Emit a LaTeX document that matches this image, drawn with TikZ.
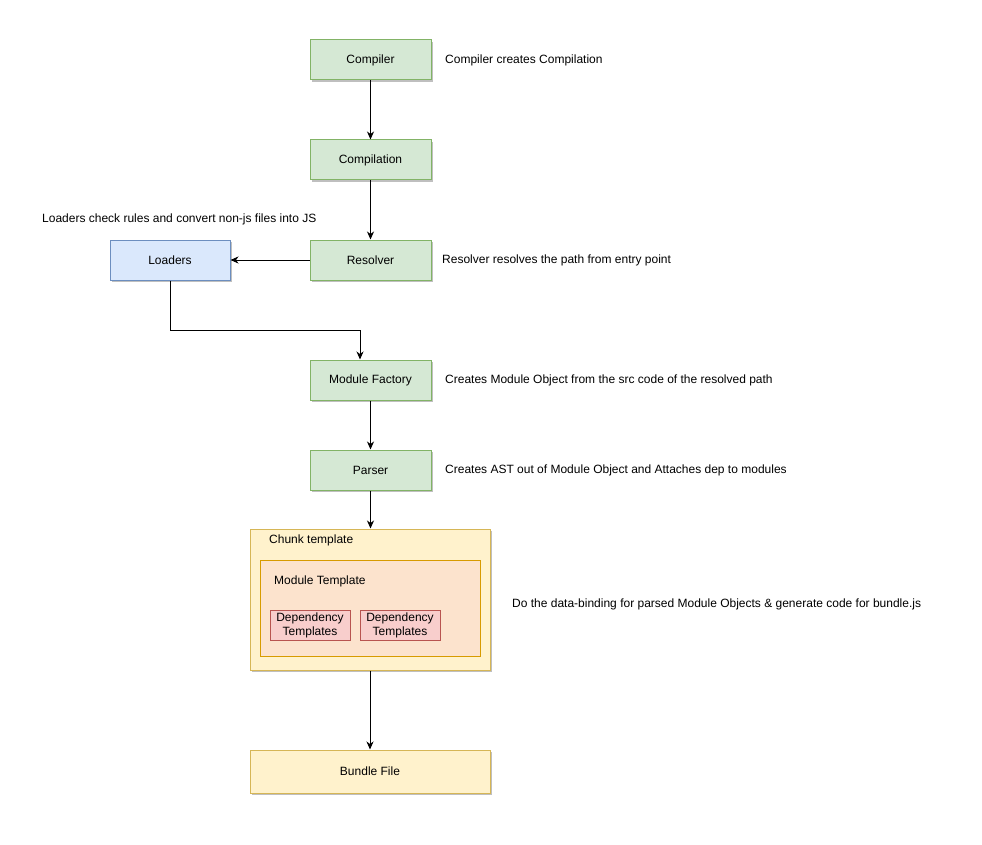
\documentclass[tikz,border=0pt]{standalone}
\usepackage{fontspec}
\setmainfont{Liberation Sans}
\usepackage{xcolor}
\usetikzlibrary{arrows.meta,positioning,calc,shadows}

\definecolor{grnfill}{HTML}{D5E8D4}
\definecolor{grnline}{HTML}{82B366}
\definecolor{blufill}{HTML}{DAE8FC}
\definecolor{bluline}{HTML}{6C8EBF}
\definecolor{ylwfill}{HTML}{FFF2CC}
\definecolor{ylwline}{HTML}{D6B656}
\definecolor{orgfill}{HTML}{FCE3CD}
\definecolor{orgline}{HTML}{D79B00}
\definecolor{redfill}{HTML}{F8CECC}
\definecolor{redline}{HTML}{B85450}

\begin{document}
\begin{tikzpicture}[
  x=1pt,y=-1pt,
  every node/.style={font=\rmfamily\fontsize{12}{14}\selectfont},
  shade/.style ={drop shadow={shadow xshift=2pt,shadow yshift=-2pt,
                opacity=0.25,fill=black}},
  proc/.style  ={draw=grnline,fill=grnfill,line width=1pt,shade,
                minimum width=121pt,minimum height=40pt,inner sep=0pt},
  ldrbox/.style={draw=bluline,fill=blufill,line width=1pt,shade,
                minimum width=120pt,minimum height=40pt,inner sep=0pt},
  chunk/.style ={draw=ylwline,fill=ylwfill,line width=1pt,shade,
                minimum width=240pt,inner sep=0pt},
  modtpl/.style={draw=orgline,fill=orgfill,line width=0.8pt,
                minimum width=220pt,minimum height=96pt,inner sep=0pt},
  deptpl/.style={draw=redline,fill=redfill,line width=1pt,align=center,
                minimum width=80pt,minimum height=30pt,inner sep=0pt,
                font=\rmfamily\fontsize{12}{14}\selectfont},
  note/.style  ={anchor=west,inner sep=0pt},
  fl/.style    ={-{Stealth[length=8pt,width=7pt,inset=2.5pt]},line width=1pt,black},
  ]
  \useasboundingbox (0,0) rectangle (982,845);

  % ===== main column =====
  \node[proc] (cmp)  at (370.5, 60) {Compiler};
  \node[proc] (cpl)  at (370.5,160) {Compilation};
  \node[proc] (res)  at (370.5,260) {Resolver};
  \node[ldrbox] (ldr) at (170,260) {Loaders};
  \node[proc] (mf)   at (370.5,380) {Module Factory};
  \node[proc] (prs)  at (370.5,470) {Parser};

  % ===== templates =====
  \node[chunk,minimum height=141pt] (chk) at (370,599.5) {};
  \node[modtpl] (mod) at (370,608) {};
  \node[deptpl] (dep1) at (310,625) {Dependency\\Templates};
  \node[deptpl] (dep2) at (400,625) {Dependency\\Templates};
  \node[note] (chklbl) at (269,540) {Chunk template};
  \node[note] (modlbl) at (274,581) {Module Template};

  \node[chunk,minimum height=43pt] (bnd) at (370,771.5) {Bundle File};

  % ===== notes =====
  \node[note] (n1) at (445, 60) {Compiler creates Compilation};
  \node[note] (n2) at ( 42,219) {Loaders check rules and convert non-js files into JS};
  \node[note] (n3) at (442,260) {Resolver resolves the path from entry point};
  \node[note] (n4) at (445,380) {Creates Module Object from the src code of the resolved path};
  \node[note] (n5) at (445,470) {Creates AST out of Module Object and Attaches dep to modules};
  \node[note] (n6) at (512,604) {Do the data-binding for parsed Module Objects \& generate code for bundle.js};

  % ===== arrows =====
  \draw[fl] (cmp.south) -- (cpl.north);
  \draw[fl] (cpl.south) -- (res.north);
  \draw[fl] (res.west) -- (ldr.east);
  \coordinate (bend) at (360,330);
  \draw[fl] (ldr.south) |- (bend) -- (bend |- mf.north);
  \draw[fl] (mf.south) -- (prs.north);
  \draw[fl] (prs.south) -- (prs.south |- chk.north);
  \draw[fl] (chk.south) -- (bnd.north);

\end{tikzpicture}
\end{document}
